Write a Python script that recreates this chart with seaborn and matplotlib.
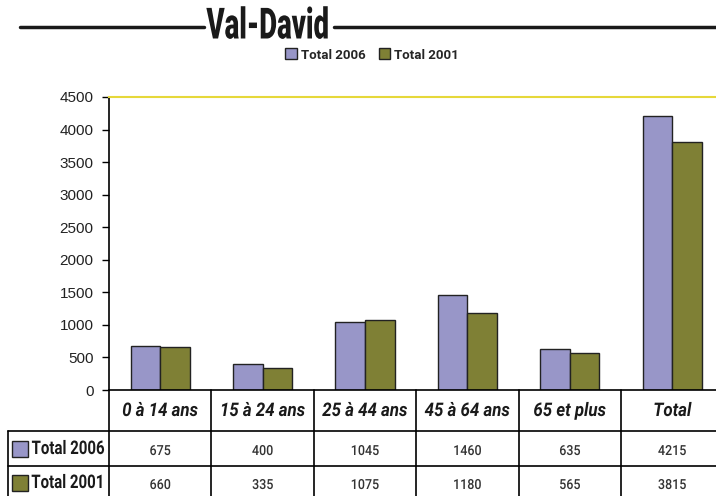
import pandas as pd
import matplotlib.pyplot as plt
import matplotlib.transforms as mtransforms
from matplotlib.lines import Line2D
from matplotlib.patches import Rectangle, Patch
from matplotlib.patheffects import AbstractPathEffect
import seaborn as sns

categories = ['0 à 14 ans', '15 à 24 ans', '25 à 44 ans', '45 à 64 ans', '65 et plus', 'Total']
total_2006 = [675, 400, 1045, 1460, 635, 4215]
total_2001 = [660, 335, 1075, 1180, 565, 3815]
series_names = ['Total 2006', 'Total 2001']
colors = ['#9896c8', '#7f8035']


class Condensed(AbstractPathEffect):
    # squeeze text horizontally around its centre (condensed type look)
    def __init__(self, sx=0.8):
        super().__init__()
        self.sx = sx

    def draw_path(self, renderer, gc, tpath, affine, rgbFace=None):
        ext = tpath.get_extents()
        cx = (ext.x0 + ext.x1) / 2
        squeeze = mtransforms.Affine2D().translate(-cx, 0).scale(self.sx, 1).translate(cx, 0)
        renderer.draw_path(gc, tpath, squeeze + affine, rgbFace)


sns.set_style('white')
plt.rcParams['font.family'] = ['Roboto', 'Liberation Sans', 'DejaVu Sans']

df = pd.DataFrame({
    'category': categories * 2,
    'value': total_2006 + total_2001,
    'serie': [series_names[0]] * len(categories) + [series_names[1]] * len(categories),
})

W, H = 716, 496
fig = plt.figure(figsize=(W / 100, H / 100), dpi=100)
ax = fig.add_axes([109 / W, 106 / H, 607 / W, 293 / H])

sns.barplot(data=df, x='category', y='value', hue='serie', palette=colors, saturation=1,
            width=0.58, gap=0, edgecolor='#222222', linewidth=1, ax=ax, legend=False)

ax.set_xlim(-0.5, -0.5 + 607 / 102.4)
ax.set_ylim(0, 4500)
ax.set_yticks(range(0, 4501, 500))
ax.set_xticks([])
ax.set_xlabel('')
ax.set_ylabel('')
ax.tick_params(axis='y', direction='out', length=5, width=1, color='black',
               labelsize=11, labelcolor='#222222', left=True, pad=6)
for lab in ax.get_yticklabels():
    lab.set_family(['Liberation Sans', 'DejaVu Sans'])

ax.spines['right'].set_visible(False)
ax.spines['top'].set_color('#e6d83a')
ax.spines['top'].set_linewidth(1.5)
ax.spines['left'].set_color('black')
ax.spines['left'].set_linewidth(1.2)
ax.spines['bottom'].set_color('black')
ax.spines['bottom'].set_linewidth(1.2)

# table under the chart: x in data units, y in axes fraction
tr = mtransforms.blended_transform_factory(ax.transData, ax.transAxes)
px = 1 / 293
col_px = 102.4
y_row1 = -41 * px
y_row2 = -76 * px
y_bot = -106 * px
x_left = -0.5 - 101 / col_px
x_right = ax.get_xlim()[1]
lw = 1.2


def hline(y, x0, x1):
    ax.add_line(Line2D([x0, x1], [y, y], transform=tr, color='black', lw=lw, clip_on=False))


def vline(x, y0, y1):
    ax.add_line(Line2D([x, x], [y0, y1], transform=tr, color='black', lw=lw, clip_on=False))


hline(y_row1, x_left, x_right)
hline(y_row2, x_left, x_right)
vline(-0.5, 0, y_bot)
vline(x_left, y_row1, y_bot)
for i in range(len(categories) - 1):
    vline(i + 0.5, 0, y_bot)

for i, cat in enumerate(categories):
    t = ax.text(i, -21 * px, cat, transform=tr, ha='center', va='center',
                fontsize=13.5, fontweight='bold', fontstyle='italic', color='#1a1a1a')
    t.set_path_effects([Condensed(0.9)])
    for val, yy in [(total_2006[i], -61 * px), (total_2001[i], -95 * px)]:
        t = ax.text(i, yy, str(val), transform=tr, ha='center', va='center',
                    fontsize=10, fontweight='medium', color='#333333')
        t.set_path_effects([Condensed(0.9)])

for name, col, yc in zip(series_names, colors, [-59 * px, -93 * px]):
    ax.add_patch(Rectangle((x_left + 4 / col_px, yc - 8 * px), 16 / col_px, 16 * px,
                           transform=tr, facecolor=col, edgecolor='#222222', lw=1, clip_on=False))
    t = ax.text(x_left + 60 / col_px, yc, name, transform=tr, ha='center', va='center',
                fontsize=13.5, fontweight='bold', color='#1a1a1a')
    t.set_path_effects([Condensed(0.8)])

# title with rules on each side
t = fig.text(268 / W, 1 - 27 / H, 'Val-David', ha='center', va='center',
             fontsize=31, fontweight='black', color='#1a1a1a')
t.set_path_effects([Condensed(0.64)])
fig.add_artist(Line2D([20 / W, 204 / W], [1 - 27 / H] * 2, color='#1a1a1a', lw=2.5))
fig.add_artist(Line2D([334 / W, 716 / W], [1 - 27 / H] * 2, color='#1a1a1a', lw=2.5))

handles = [Patch(facecolor=c, edgecolor='#222222', lw=1) for c in colors]
fig.legend(handles, series_names, loc='center', bbox_to_anchor=(372 / W, 1 - 55 / H),
           ncol=2, frameon=False, handlelength=0.9, handleheight=0.9, handletextpad=0.3,
           columnspacing=1.0, prop={'weight': 'bold', 'size': 9.5})

plt.savefig('out.png', dpi=100)
